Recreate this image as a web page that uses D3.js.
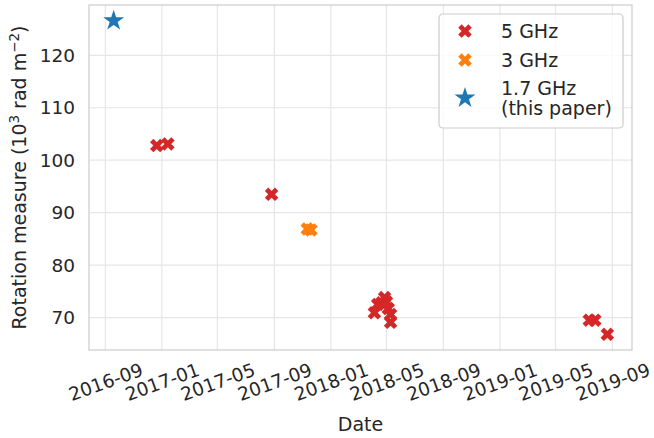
<!DOCTYPE html>
<html>
<head>
<meta charset="utf-8">
<script src="https://cdn.jsdelivr.net/npm/d3@7"></script>
<style>
  body { margin: 0; background: #fff; }
  text { font-family: "DejaVu Sans", sans-serif; fill: #262626; }
</style>
</head>
<body>
<div id="chart"></div>
<script>
var dates5 = ["2016-12-21", "2017-01-14", "2017-08-26",
              "2018-04-05", "2018-04-12", "2018-04-21", "2018-04-27",
              "2018-05-01", "2018-05-05", "2018-05-10", "2018-05-10",
              "2019-07-13", "2019-07-25", "2019-08-21"];
var rm5 = [102.8, 103.1, 93.5,
           70.9, 72.5, 72.8, 73.8,
           73.0, 71.7, 70.6, 69.1,
           69.5, 69.5, 66.8];
var dates3 = ["2017-11-11", "2017-11-19"];
var rm3 = [86.9, 86.7];
var dates17 = ["2016-09-19"];
var rm17 = [126.6];

var yTicks = [70, 80, 90, 100, 110, 120];
var xTicks = ["2016-09", "2017-01", "2017-05", "2017-09", "2018-01",
              "2018-05", "2018-09", "2019-01", "2019-05", "2019-09"];

var legendLabels = [["5 GHz"], ["3 GHz"], ["1.7 GHz", "(this paper)"]];
var colors = ["#d62728", "#ff7f0e", "#1f77b4"];

var width = 654;
var height = 438;
var margin = {left: 89, right: 22, top: 5, bottom: 88};

var parse = d3.timeParse("%Y-%m-%d");
var parseMonth = d3.timeParse("%Y-%m");

var series = [
  {dates: dates5, rm: rm5, color: colors[0], shape: "x"},
  {dates: dates3, rm: rm3, color: colors[1], shape: "x"},
  {dates: dates17, rm: rm17, color: colors[2], shape: "star"}
];
var points = [];
series.forEach(function(s) {
  s.dates.forEach(function(d, i) {
    points.push({date: parse(d), rm: s.rm[i], color: s.color, shape: s.shape});
  });
});

// matplotlib-style 5% padding on the data extent
var xExt = d3.extent(points, function(d) { return +d.date; });
var xPad = (xExt[1] - xExt[0]) * 0.05;
var yExt = d3.extent(points, function(d) { return d.rm; });
var yPad = (yExt[1] - yExt[0]) * 0.05;

var x = d3.scaleTime()
  .domain([new Date(xExt[0] - xPad), new Date(xExt[1] + xPad)])
  .range([margin.left, width - margin.right]);
var y = d3.scaleLinear()
  .domain([yExt[0] - yPad, yExt[1] + yPad])
  .range([height - margin.bottom, margin.top]);

// marker paths
function xPath(s) {
  var v = [[-1, -2], [0, -1], [1, -2], [2, -1], [1, 0], [2, 1],
           [1, 2], [0, 1], [-1, 2], [-2, 1], [-1, 0], [-2, -1]];
  return "M" + v.map(function(p) { return [p[0] * s / 4, p[1] * s / 4].join(","); }).join("L") + "Z";
}
function starPath(r) {
  var pts = [];
  for (var i = 0; i < 10; i++) {
    var rr = i % 2 === 0 ? r : r * 0.381966;
    var a = -Math.PI / 2 + i * Math.PI / 5;
    pts.push([rr * Math.cos(a), rr * Math.sin(a)]);
  }
  return "M" + pts.map(function(p) { return p.join(","); }).join("L") + "Z";
}

var svg = d3.select("#chart")
  .append("svg")
  .attr("width", width)
  .attr("height", height);

// grid
svg.append("g")
  .selectAll("line")
  .data(xTicks.map(parseMonth))
  .enter()
  .append("line")
  .attr("x1", function(d) { return x(d); })
  .attr("x2", function(d) { return x(d); })
  .attr("y1", margin.top)
  .attr("y2", height - margin.bottom)
  .attr("stroke", "#e6e6e6")
  .attr("stroke-width", 1.2);

svg.append("g")
  .selectAll("line")
  .data(yTicks)
  .enter()
  .append("line")
  .attr("x1", margin.left)
  .attr("x2", width - margin.right)
  .attr("y1", function(d) { return y(d); })
  .attr("y2", function(d) { return y(d); })
  .attr("stroke", "#e6e6e6")
  .attr("stroke-width", 1.2);

// frame
svg.append("rect")
  .attr("x", margin.left)
  .attr("y", margin.top)
  .attr("width", width - margin.left - margin.right)
  .attr("height", height - margin.top - margin.bottom)
  .attr("fill", "none")
  .attr("stroke", "#cccccc")
  .attr("stroke-width", 1.2);

// y axis
var yAxis = svg.append("g")
  .attr("transform", "translate(" + margin.left + ",0)")
  .call(d3.axisLeft(y).tickValues(yTicks).tickSize(0).tickPadding(14));
yAxis.select(".domain").remove();
yAxis.selectAll("text")
  .attr("font-size", "18.5px")
  .attr("font-family", "DejaVu Sans")
  .attr("fill", "#262626");

// x axis
var xAxis = svg.append("g")
  .attr("transform", "translate(0," + (height - margin.bottom) + ")")
  .call(d3.axisBottom(x).tickValues(xTicks.map(parseMonth))
    .tickFormat(d3.timeFormat("%Y-%m")).tickSize(0).tickPadding(0));
xAxis.select(".domain").remove();
xAxis.selectAll("text")
  .attr("font-size", "18.5px")
  .attr("font-family", "DejaVu Sans")
  .attr("fill", "#262626")
  .attr("text-anchor", "middle")
  .attr("dy", null)
  .attr("y", 0)
  .attr("dominant-baseline", "central")
  .attr("transform", "translate(0,32) rotate(-20)");

// axis titles
svg.append("text")
  .attr("x", (margin.left + width - margin.right) / 2)
  .attr("y", 431)
  .attr("text-anchor", "middle")
  .attr("font-size", "19px")
  .text("Date");

var yl = svg.append("text")
  .attr("transform", "translate(26," + ((margin.top + height - margin.bottom) / 2) + ") rotate(-90)")
  .attr("text-anchor", "middle")
  .attr("font-size", "19px");
yl.append("tspan").text("Rotation measure (10");
yl.append("tspan").attr("font-size", "13.5px").attr("dy", -7).text("3");
yl.append("tspan").attr("dy", 7).text(" rad m");
yl.append("tspan").attr("font-size", "13.5px").attr("dy", -7).text("\u22122");
yl.append("tspan").attr("dy", 7).text(")");

// points
svg.append("g")
  .selectAll("path")
  .data(points)
  .enter()
  .append("path")
  .attr("transform", function(d) { return "translate(" + x(d.date) + "," + y(d.rm) + ")"; })
  .attr("d", function(d) { return d.shape === "star" ? starPath(11) : xPath(13.5); })
  .attr("fill", function(d) { return d.color; });

// legend
var lg = svg.append("g").attr("transform", "translate(439,14)");
lg.append("rect")
  .attr("width", 184)
  .attr("height", 114)
  .attr("rx", 4)
  .attr("fill", "#fff")
  .attr("fill-opacity", 0.8)
  .attr("stroke", "#cccccc")
  .attr("stroke-width", 1.2);

var rowY = [17, 46, 84];
legendLabels.forEach(function(lines, i) {
  lg.append("path")
    .attr("transform", "translate(26," + rowY[i] + ")")
    .attr("d", i === 2 ? starPath(11) : xPath(13.5))
    .attr("fill", colors[i]);
  var t = lg.append("text")
    .attr("x", 62)
    .attr("y", rowY[i] - (lines.length - 1) * 10)
    .attr("dominant-baseline", "central")
    .attr("font-size", "19px");
  lines.forEach(function(l, j) {
    t.append("tspan").attr("x", 62).attr("dy", j === 0 ? 0 : 20).text(l);
  });
});
</script>
</body>
</html>
